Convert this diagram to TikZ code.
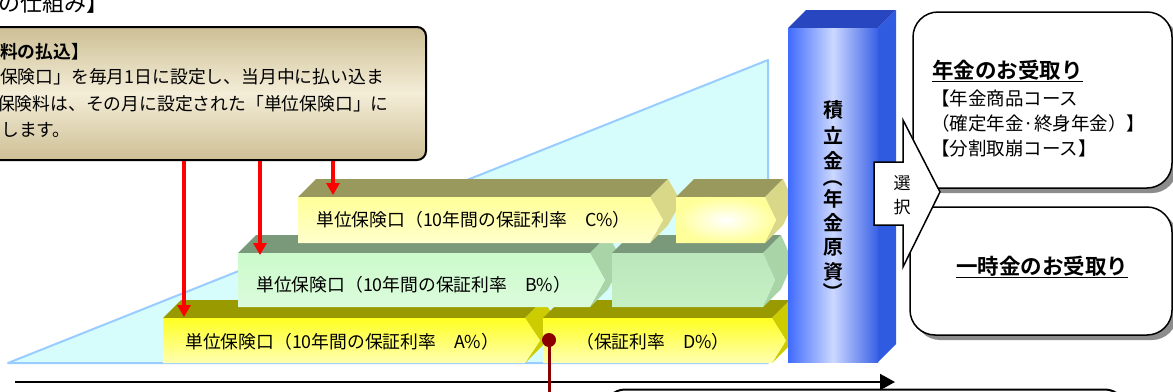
\documentclass[tikz,border=0pt]{standalone}
\usepackage{fontspec}
\setmainfont{Noto Sans CJK JP}[BoldFont={Noto Sans CJK JP Bold}]
\usetikzlibrary{arrows.meta,shadows}

\definecolor{triFill}{HTML}{D6FCFC}
\definecolor{triEdge}{HTML}{99CCFF}
\definecolor{aFront}{HTML}{FFFF22}
\definecolor{aTop}{HTML}{999900}
\definecolor{aSide}{HTML}{CCCC00}
\definecolor{bFront}{HTML}{CCFACC}
\definecolor{bTop}{HTML}{7A987A}
\definecolor{bSide}{HTML}{A8D4A8}
\definecolor{cFront}{HTML}{FFFF99}
\definecolor{cTop}{HTML}{99995E}
\definecolor{cSide}{HTML}{D8D888}
\definecolor{barBlue}{HTML}{3F6BFF}
\definecolor{barLight}{HTML}{CCD8FF}
\definecolor{barSide}{HTML}{2F5BE0}
\definecolor{barTop}{HTML}{2846C0}
\definecolor{explEdge}{HTML}{CDBF95}
\definecolor{explMid}{HTML}{F4EDD8}
\definecolor{dotRed}{HTML}{8B0000}

% chevron block: x0, x1, ytop, ybottom, tip, front shading, top colour, side colour
\newcommand{\chevblock}[8]{%
  \fill[#7] (#1,#3) -- ({#1+18},{#3-18}) -- ({#2+18},{#3-18}) -- (#2,#3) -- cycle;
  \fill[#8] (#2,#3) -- ({#2+18},{#3-18}) -- ({#2+#5+18},{(#3+#4)/2-18}) -- ({#2+18},{#4-18}) -- (#2,#4) -- ({#2+#5},{(#3+#4)/2}) -- cycle;
  \shade[#6] (#1,#3) -- (#2,#3) -- ({#2+#5},{(#3+#4)/2}) -- (#2,#4) -- (#1,#4) -- cycle;}

\begin{document}
\begin{tikzpicture}[x=1pt,y=-1pt,
  blocktext/.style={font=\fontsize{17.8}{20}\selectfont, anchor=west, inner sep=0pt},
  expltext/.style={font=\fontsize{17.8}{20}\selectfont, anchor=west, inner sep=0pt},
  bartext/.style={font=\bfseries\fontsize{20}{22}\selectfont, inner sep=0pt},
  rtext/.style={font=\fontsize{18.5}{20}\selectfont, anchor=west, inner sep=0pt},
  choicebox/.style={draw, line width=1.5pt, fill=white, rounded corners=25pt,
    drop shadow={shadow xshift=5pt, shadow yshift=-5pt, fill=black!45, opacity=1}},
  payarrow/.style={red, line width=3.3pt, -{Triangle[length=12pt,width=13pt]}}]
\useasboundingbox (0,0) rectangle (1173,391);
\fill[white] (0,0) rectangle (1173,391);
\clip (0,0) rectangle (1173,391);

% background wedge
\draw[triEdge, line width=2pt, fill=triFill, line join=round] (8,363) -- (768,60) -- (768,363) -- cycle;

% blocks
\chevblock{163}{525}{318}{363}{15}{top color=aFront, bottom color=aFront!35!white}{aTop}{aSide}
\chevblock{543}{772}{318}{363}{14}{top color=aFront, bottom color=aFront!35!white}{aTop}{aSide}
\chevblock{238}{590}{253}{307}{15}{top color=bFront, bottom color=bFront!70!white}{bTop}{bSide}
\chevblock{612}{763}{253}{307}{12}{top color=bFront!92!black, bottom color=bFront!96!black}{bTop}{bSide}
\chevblock{298}{650}{197}{243}{13}{top color=cFront, bottom color=cFront!50!white}{cTop}{cSide}
\chevblock{676}{765}{197}{243}{11}{inner color=white, outer color=cFront}{cTop}{cSide}

\node[blocktext] (unitA) at (185,342) {単位保険口（10年間の保証利率　A\%）};
\node[blocktext] (unitB) at (256,285) {単位保険口（10年間の保証利率　B\%）};
\node[blocktext] (unitC) at (316,220) {単位保険口（10年間の保証利率　C\%）};
\node[font=\fontsize{17.8}{20}\selectfont, inner sep=0pt] (unitD) at (653,342) {（保証利率　D\%）};

% accumulation bar
\fill[barTop] (788,28) -- (806,10) -- (896,10) -- (878,28) -- cycle;
\fill[barSide] (878,28) -- (896,10) -- (896,344) -- (878,362) -- cycle;
\shade[left color=barBlue, right color=barBlue!90!black, middle color=barLight] (788,28) rectangle (878,362);
\foreach \ch/\yy in {積/110,立/136,金/161,年/199,金/223,原/247,資/272}
  \node[bartext] at (833,\yy) {\ch};
\node[bartext, rotate=-90] at (833,177) {（};
\node[bartext, rotate=-90] at (833,292) {）};

% payout boxes
\node[choicebox, minimum width=259pt, minimum height=176pt] (annuity) at (1042.5,100) {};
\node[choicebox, minimum width=262pt, minimum height=128pt] (lumpsum) at (1041,271) {};
\node[font=\bfseries\fontsize{21.5}{24}\selectfont, anchor=west, inner sep=0pt] (annT) at (932,71) {\underline{年金のお受取り}};
\node[rtext] (annA) at (931,98) {【年金商品コース};
\node[rtext] (annB) at (931,123) {（確定年金·終身年金）】};
\node[rtext] (annC) at (931,148) {【分割取崩コース】};
\node[font=\bfseries\fontsize{21.5}{24}\selectfont, inner sep=0pt] (lumpT) at (1042,267) {\underline{一時金のお受取り}};

\draw[line width=1.5pt, fill=white, line join=miter] (874,162) -- (903,162) -- (903,120) -- (940,192) -- (903,267) -- (903,225) -- (874,225) -- cycle;
\node[font=\fontsize{17}{24}\selectfont, align=center, inner sep=0pt] (choice) at (902,195) {選\\択};

% premium box
\node[draw, line width=2pt, rounded corners=9pt, top color=explEdge, bottom color=explEdge, middle color=explMid,
  minimum width=456pt, minimum height=133pt] (expl) at (198,93.5) {};
\node[expltext, font=\bfseries\fontsize{17.8}{20}\selectfont] (explH) at (0,52) {料の払込】};
\node[expltext] (expl1) at (0,77) {保険口」を毎月1日に設定し、当月中に払い込ま};
\node[expltext] (expl2) at (-3,104) {保険料は、その月に設定された「単位保険口」に};
\node[expltext] (expl3) at (1,130) {します。};
\node[font=\fontsize{22}{24}\selectfont, anchor=west, inner sep=0pt] (title) at (-2,3.5) {の仕組み】};

\coordinate (topA) at (184,317);
\coordinate (topB) at (260,255);
\coordinate (topC) at (333,195);
\draw[payarrow] (expl.south -| topA) -- (topA);
\draw[payarrow] (expl.south -| topB) -- (topB);
\draw[payarrow] (expl.south -| topC) -- (topC);

% time axis
\coordinate (timeL) at (15,382);
\coordinate (timeR) at (895,382);
\draw[line width=2pt, -{Triangle[length=15pt,width=16pt]}] (timeL) -- (timeR);

\coordinate (switch) at (549,340);
\coordinate (switchEnd) at (549,400);
\draw[dotRed, line width=3pt] (switch) -- (switchEnd);
\fill[dotRed] (switch) circle (7pt);

\draw[line width=2pt, rounded corners=20pt] (605,389.5) rectangle (1125,440);
\end{tikzpicture}
\end{document}
